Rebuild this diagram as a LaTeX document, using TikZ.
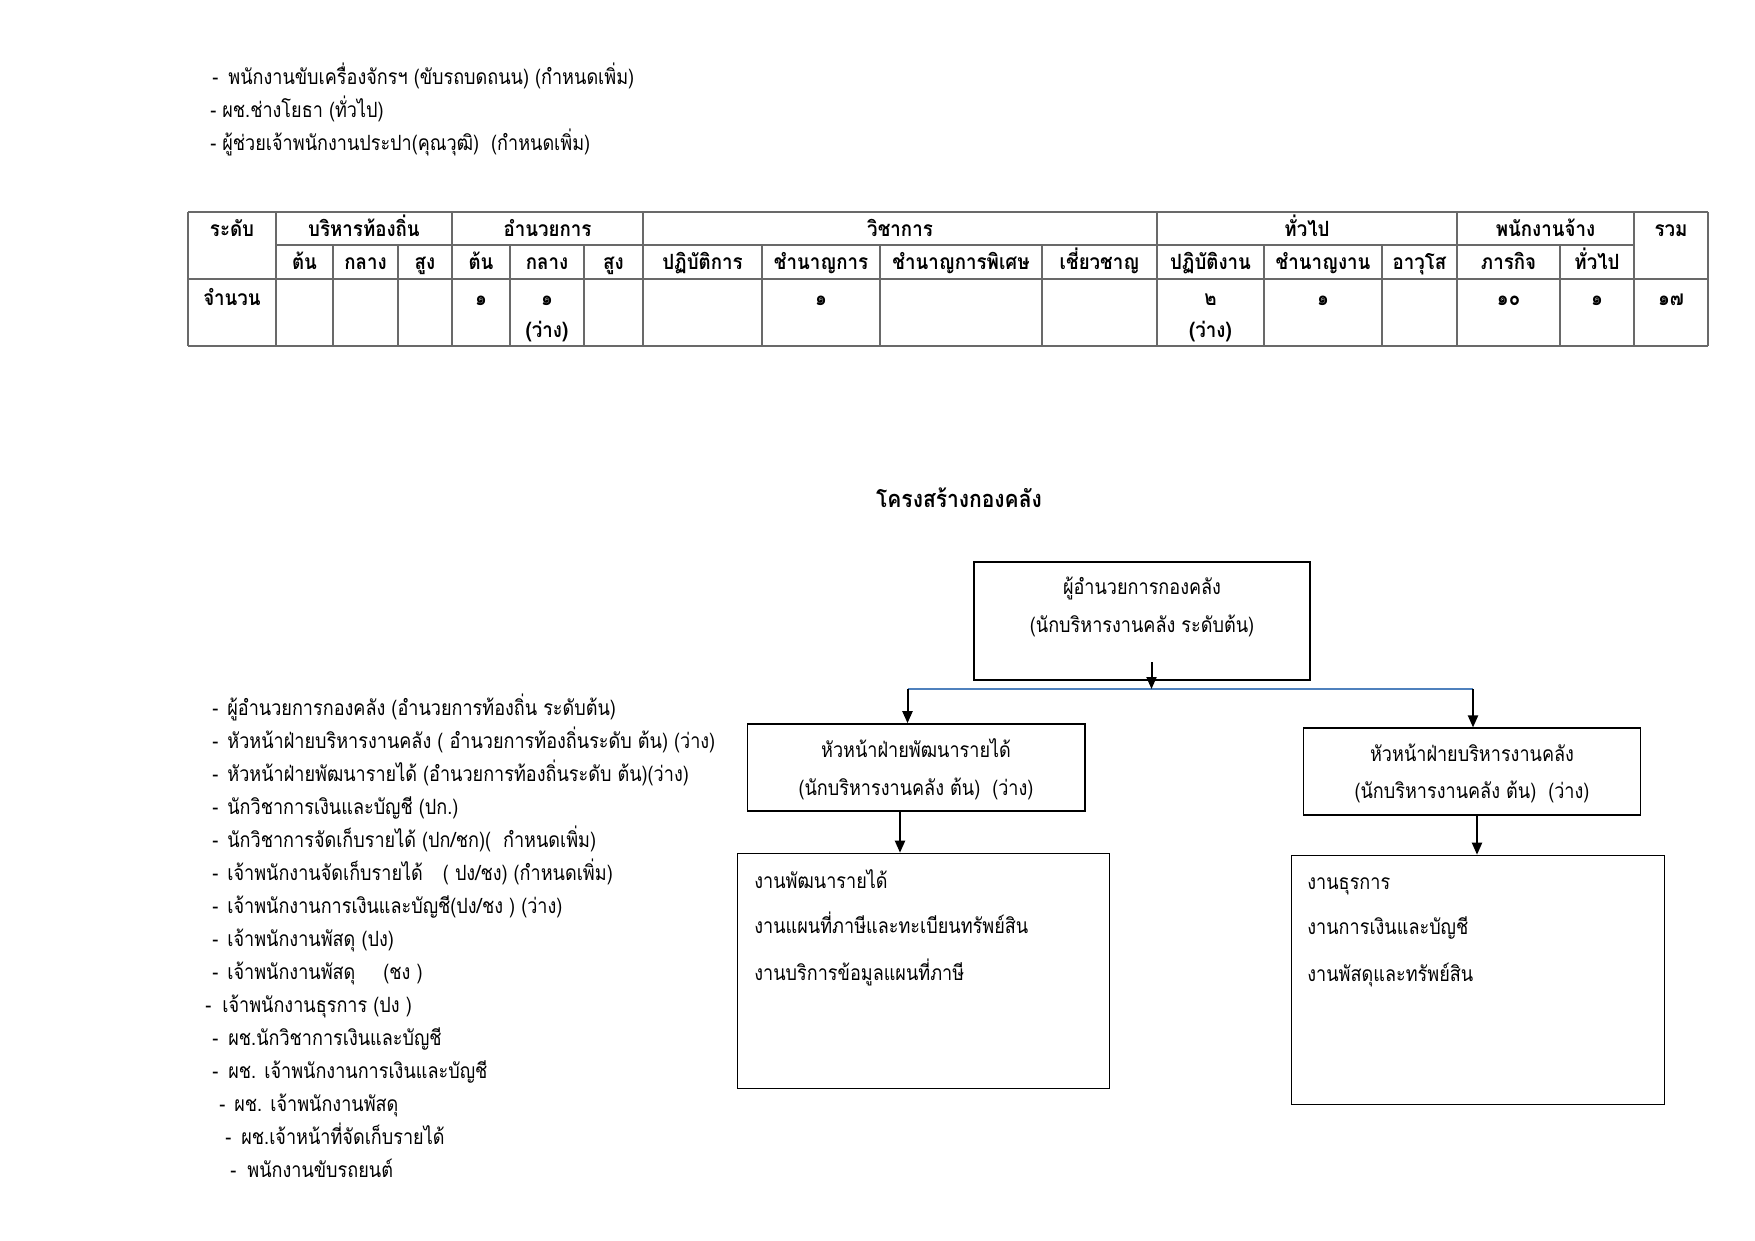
\documentclass[tikz,border=0pt]{standalone}
\usepackage{fontspec}
\setmainfont[Script=Thai, FakeStretch=0.86, BoldFeatures={FakeStretch=0.89}]{Loma}
\usetikzlibrary{arrows.meta}
\definecolor{conn}{RGB}{79,129,189}
\definecolor{tline}{RGB}{105,105,105}
\begin{document}
\begin{tikzpicture}[x=0.5pt,y=-0.5pt,
  txt/.style={font=\fontsize{10.5}{12}\selectfont, inner sep=0pt},
  lst/.style={txt, anchor=base west},
  ctr/.style={txt, anchor=base},
  hdr/.style={txt, anchor=base, font=\fontsize{10.5}{12}\selectfont\bfseries},
  ttl/.style={txt, anchor=base, font=\fontsize{11.8}{13}\selectfont\bfseries},
  tbl/.style={draw=tline, line width=1pt},
  box/.style={draw=black, line width=0.8pt, inner sep=0pt},
  arr/.style={draw=black, line width=1pt, -{Triangle[width=5pt,length=6pt]}},
  bus/.style={draw=conn, line width=0.8pt}]
\useasboundingbox (0,0) rectangle (1755,1241);

% ---------- top list ----------
\node[lst] (t1) at (212,85) {\makebox[8pt][l]{-}พนักงานขับเครื่องจักรฯ (ขับรถบดถนน) (กำหนดเพิ่ม)};
\node[lst] (t2) at (210,118) {\makebox[6pt][l]{-}ผช.ช่างโยธา (ทั่วไป)};
\node[lst] (t3) at (210,151) {\makebox[6pt][l]{-}ผู้ช่วยเจ้าพนักงานประปา(คุณวุฒิ)\hspace{6pt}(กำหนดเพิ่ม)};

% ---------- table ----------
\draw[tbl] (188,212) -- (1708,212);
\draw[tbl] (276,245) -- (1634,245);
\draw[tbl] (188,279) -- (1708,279);
\draw[tbl] (188,346) -- (1708,346);
\foreach \x in {188,276,452,643,1157,1457,1634,1708}
  \draw[tbl] (\x,212) -- (\x,346);
\foreach \x in {333,398,510,584,762,880,1042,1264,1382,1560}
  \draw[tbl] (\x,245) -- (\x,346);

\node[hdr] (h1) at (232,236) {ระดับ};
\node[hdr] (h2) at (364,236) {บริหารท้องถิ่น};
\node[hdr] (h3) at (547.5,236) {อำนวยการ};
\node[hdr] (h4) at (900,236) {วิชาการ};
\node[hdr] (h5) at (1307,236) {ทั่วไป};
\node[hdr] (h6) at (1545.5,236) {พนักงานจ้าง};
\node[hdr] (h7) at (1671,236) {รวม};

\node[hdr] (s1) at (304.5,270) {ต้น};
\node[hdr] (s2) at (365.5,270) {กลาง};
\node[hdr] (s3) at (425,270) {สูง};
\node[hdr] (s4) at (481,270) {ต้น};
\node[hdr] (s5) at (547,270) {กลาง};
\node[hdr] (s6) at (613.5,270) {สูง};
\node[hdr] (s7) at (702.5,270) {ปฏิบัติการ};
\node[hdr] (s8) at (821,270) {ชำนาญการ};
\node[hdr] (s9) at (961,270) {ชำนาญการพิเศษ};
\node[hdr] (s10) at (1099.5,270) {เชี่ยวชาญ};
\node[hdr] (s11) at (1210.5,270) {ปฏิบัติงาน};
\node[hdr] (s12) at (1323,270) {ชำนาญงาน};
\node[hdr] (s13) at (1419.5,270) {อาวุโส};
\node[hdr] (s14) at (1508.5,270) {ภารกิจ};
\node[hdr] (s15) at (1597,270) {ทั่วไป};

\node[hdr] (v0) at (232,306) {จำนวน};
\node[hdr] (v1) at (481,306) {๑};
\node[hdr] (v2) at (547,306) {๑};
\node[hdr] (v2b) at (547,337) {(ว่าง)};
\node[hdr] (v3) at (821,306) {๑};
\node[hdr] (v4) at (1210.5,306) {๒};
\node[hdr] (v4b) at (1210.5,337) {(ว่าง)};
\node[hdr] (v5) at (1323,306) {๑};
\node[hdr] (v6) at (1508.5,306) {๑๐};
\node[hdr] (v7) at (1597,306) {๑};
\node[hdr] (v8) at (1671,306) {๑๗};

% ---------- title ----------
\node[ttl] (title) at (959,507) {โครงสร้างกองคลัง};

% ---------- org chart ----------
\node[box, minimum width=336.5pt*0.5, minimum height=118.5pt*0.5] (top) at (1142,621) {};
\node[ctr] (top1) at (1142,594) {ผู้อำนวยการกองคลัง};
\node[ctr] (top2) at (1142,632) {(นักบริหารงานคลัง ระดับต้น)};

\node[box, minimum width=337.5pt*0.5, minimum height=87pt*0.5] (lbox) at (916.25,767.5) {};
\node[ctr] (l1) at (916,757) {หัวหน้าฝ่ายพัฒนารายได้};
\node[ctr] (l2) at (916,795) {(นักบริหารงานคลัง ต้น)\hspace{6pt}(ว่าง)};

\node[box, minimum width=337pt*0.5, minimum height=87pt*0.5] (rbox) at (1472,771.75) {};
\node[ctr] (r1) at (1472,761) {หัวหน้าฝ่ายบริหารงานคลัง};
\node[ctr] (r2) at (1472,798) {(นักบริหารงานคลัง ต้น)\hspace{6pt}(ว่าง)};

\node[box, minimum width=372pt*0.5, minimum height=235pt*0.5] (lbb) at (923.5,971) {};
\node[lst] (lb1) at (754,888) {งานพัฒนารายได้};
\node[lst] (lb2) at (754,933) {งานแผนที่ภาษีและทะเบียนทรัพย์สิน};
\node[lst] (lb3) at (754,980) {งานบริการข้อมูลแผนที่ภาษี};

\node[box, minimum width=373pt*0.5, minimum height=249pt*0.5] (rbb) at (1478,980) {};
\node[lst] (rb1) at (1307,889) {งานธุรการ};
\node[lst] (rb2) at (1307,934) {งานการเงินและบัญชี};
\node[lst] (rb3) at (1307,981) {งานพัสดุและทรัพย์สิน};

\coordinate (topin) at (1151.5,662);
\coordinate (jn) at (1151.5,689);
\coordinate (bl) at (907.5,689);
\coordinate (br) at (1473,689);
\draw[bus] (bl) -- (br);
\draw[arr] (topin) -- (jn);
\draw[arr] (bl) -- (bl |- lbox.north);
\draw[arr] (br) -- (br |- rbox.north);
\draw[arr] (lbox.south -| 900,0) -- (lbb.north -| 900,0);
\draw[arr] (rbox.south -| 1477,0) -- (rbb.north -| 1477,0);

% ---------- left list ----------
\node[lst] (a1) at (212,715) {\makebox[7.5pt][l]{-}ผู้อำนวยการกองคลัง (อำนวยการท้องถิ่น ระดับต้น)};
\node[lst] (a2) at (212,748) {\makebox[7.5pt][l]{-}หัวหน้าฝ่ายบริหารงานคลัง ( อำนวยการท้องถิ่นระดับ ต้น) (ว่าง)};
\node[lst] (a3) at (212,781) {\makebox[7.5pt][l]{-}หัวหน้าฝ่ายพัฒนารายได้ (อำนวยการท้องถิ่นระดับ ต้น)(ว่าง)};
\node[lst] (a4) at (212,814) {\makebox[7.5pt][l]{-}นักวิชาการเงินและบัญชี (ปก.)};
\node[lst] (a5) at (212,847) {\makebox[7.5pt][l]{-}นักวิชาการจัดเก็บรายได้ (ปก/ชก)(\hspace{6pt}กำหนดเพิ่ม)};
\node[lst] (a6) at (212,880) {\makebox[7.5pt][l]{-}เจ้าพนักงานจัดเก็บรายได้\hspace{10pt}( ปง/ชง) (กำหนดเพิ่ม)};
\node[lst] (a7) at (212,913) {\makebox[7.5pt][l]{-}เจ้าพนักงานการเงินและบัญชี(ปง/ชง ) (ว่าง)};
\node[lst] (a8) at (212,946) {\makebox[7.5pt][l]{-}เจ้าพนักงานพัสดุ (ปง)};
\node[lst] (a9) at (212,979) {\makebox[7.5pt][l]{-}เจ้าพนักงานพัสดุ\hspace{14pt}(ชง )};
\node[lst] (a10) at (205,1012) {\makebox[8.5pt][l]{-}เจ้าพนักงานธุรการ (ปง )};
\node[lst] (a11) at (212,1045) {\makebox[8pt][l]{-}ผช.นักวิชาการเงินและบัญชี};
\node[lst] (a12) at (212,1078) {\makebox[8pt][l]{-}ผช. เจ้าพนักงานการเงินและบัญชี};
\node[lst] (a13) at (219,1111) {\makebox[7.5pt][l]{-}ผช. เจ้าพนักงานพัสดุ};
\node[lst] (a14) at (225,1144) {\makebox[8pt][l]{-}ผช.เจ้าหน้าที่จัดเก็บรายได้};
\node[lst] (a15) at (230,1177) {\makebox[8.5pt][l]{-}พนักงานขับรถยนต์};
\end{tikzpicture}
\end{document}
